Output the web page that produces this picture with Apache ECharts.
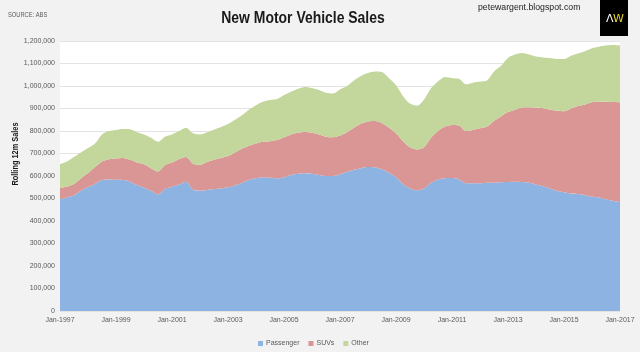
<!DOCTYPE html>
<html>
<head>
<meta charset="utf-8">
<script src="https://cdn.jsdelivr.net/npm/echarts@6/dist/echarts.min.js"></script>
<style>
  html, body { margin: 0; padding: 0; background: #f2f2f2; }
  #main { width: 640px; height: 352px; }
</style>
</head>
<body>
<div id="main"></div>
<script>
// quarterly, Jan-1997 .. Jan-2017 (values in units)
var months = ['Jan', 'Apr', 'Jul', 'Oct'];
var categories = [];
for (var y = 1997; y <= 2017; y++) {
  for (var q = 0; q < 4; q++) {
    if (y === 2017 && q > 0) break;
    categories.push(months[q] + '-' + y);
  }
}

var passenger = [
  498, 505, 515, 535, 551, 565, 582, 585, 583, 582,
  575, 560, 548, 535, 518, 542, 552, 562, 575, 540,
  535, 538, 542, 545, 550, 558, 570, 582, 590, 595,
  592, 590, 595, 605, 610, 612, 610, 605, 600, 600,
  608, 618, 628, 635, 640, 638, 630, 615, 595, 565,
  545, 537, 545, 570, 585, 590, 591, 585, 568, 568,
  568, 570, 570, 572, 573, 574, 573, 570, 562, 555,
  545, 535, 528, 522, 520, 515, 508, 505, 497, 490,
  484
].map(function (v) { return v * 1000; });

var suvs = [
  49, 48, 50, 55, 62, 75, 83, 90, 95, 98,
  97, 100, 104, 100, 102, 107, 108, 113, 110, 115,
  115, 124, 130, 135, 139, 147, 152, 153, 155, 157,
  163, 170, 177, 180, 182, 184, 182, 180, 175, 172,
  172, 177, 187, 197, 202, 206, 205, 200, 195, 190,
  183, 181, 183, 200, 215, 230, 236, 240, 232, 237,
  244, 250, 275, 293, 311, 321, 332, 336, 341, 346,
  350, 355, 360, 378, 391, 403, 420, 425, 433, 439,
  444
].map(function (v) { return v * 1000; });

var other = [
  106, 112, 120, 115, 111, 105, 120, 125, 127, 129,
  136, 135, 133, 135, 132, 126, 125, 125, 130, 135,
  135, 133, 134, 138, 142, 145, 148, 160, 170, 178,
  183, 182, 188, 190, 196, 200, 199, 197, 195, 195,
  205, 205, 210, 213, 216, 221, 227, 220, 215, 200,
  194, 194, 212, 220, 220, 220, 208, 207, 208, 210,
  208, 205, 220, 225, 241, 245, 242, 234, 228, 226,
  229, 230, 232, 235, 234, 237, 240, 245, 250, 253,
  252
].map(function (v) { return v * 1000; });

var seriesNames = ['Passenger', 'SUVs', 'Other'];
var seriesColors = ['#8db3e2', '#d99694', '#c3d69b'];
var seriesData = [passenger, suvs, other];

var font = 'Liberation Sans, Arial, sans-serif';

var myChart = echarts.init(document.getElementById('main'));
myChart.setOption({
  backgroundColor: '#f2f2f2',
  animation: false,
  textStyle: { fontFamily: font },
  graphic: [
    // title, squeezed to look like a narrow face
    { type: 'text', x: 303, y: 18, scaleX: 0.82,
      style: { text: 'New Motor Vehicle Sales', align: 'center', verticalAlign: 'middle',
               fontSize: 17, fontWeight: 'bold', fill: '#1a1a1a', fontFamily: font } },
    { type: 'text', x: 16, y: 154, rotation: Math.PI / 2, scaleX: 0.82,
      style: { text: 'Rolling 12m Sales', align: 'center', verticalAlign: 'middle',
               fontSize: 9, fontWeight: 'bold', fill: '#1a1a1a', fontFamily: font } },
    { type: 'text', x: 8, y: 15, scaleX: 0.82,
      style: { text: 'SOURCE: ABS', verticalAlign: 'middle', fontSize: 7, fill: '#595959', fontFamily: font } },
    { type: 'text', x: 478, y: 8, scaleX: 0.97,
      style: { text: 'petewargent.blogspot.com', verticalAlign: 'middle', fontSize: 9, fill: '#222', fontFamily: font } },
    { type: 'rect', shape: { x: 600, y: 0, width: 28, height: 36 }, style: { fill: '#000' } },
    { type: 'text', x: 606, y: 19,
      style: { text: '\u039B', verticalAlign: 'middle', fontSize: 11, fill: '#fff', fontFamily: 'DejaVu Sans' } },
    { type: 'text', x: 613, y: 19,
      style: { text: 'W', verticalAlign: 'middle', fontSize: 11, fill: '#e6d31f', fontFamily: 'DejaVu Sans' } }
  ],
  legend: {
    data: seriesNames,
    left: 253,
    top: 335,
    icon: 'rect',
    itemWidth: 5,
    itemHeight: 5,
    itemGap: 9,
    textStyle: { fontSize: 7, color: '#595959', fontFamily: font, padding: [0, 0, 0, -2] }
  },
  grid: {
    left: 60,
    right: 20,
    top: 41,
    bottom: 41,
    outerBoundsMode: 'none',
    containLabel: false,
    show: true,
    backgroundColor: '#ffffff',
    borderWidth: 0
  },
  xAxis: {
    type: 'category',
    boundaryGap: false,
    data: categories,
    axisLine: { show: false },
    axisTick: { show: false },
    axisLabel: { interval: 7, fontSize: 7, color: '#595959', margin: 6 }
  },
  yAxis: {
    type: 'value',
    min: 0,
    max: 1200000,
    interval: 100000,
    axisLine: { show: false },
    axisTick: { show: false },
    splitLine: { lineStyle: { color: '#e3e3e3' } },
    axisLabel: {
      fontSize: 7,
      color: '#595959',
      margin: 5,
      formatter: function (v) { return v.toString().replace(/\B(?=(\d{3})+(?!\d))/g, ','); }
    }
  },
  series: seriesNames.map(function (name, i) {
    return {
      name: name,
      type: 'line',
      stack: 'total',
      symbol: 'none',
      smooth: 0.3,
      lineStyle: { width: 0 },
      itemStyle: { color: seriesColors[i] },
      areaStyle: { color: seriesColors[i], opacity: 1 },
      data: seriesData[i]
    };
  })
});
</script>
</body>
</html>
